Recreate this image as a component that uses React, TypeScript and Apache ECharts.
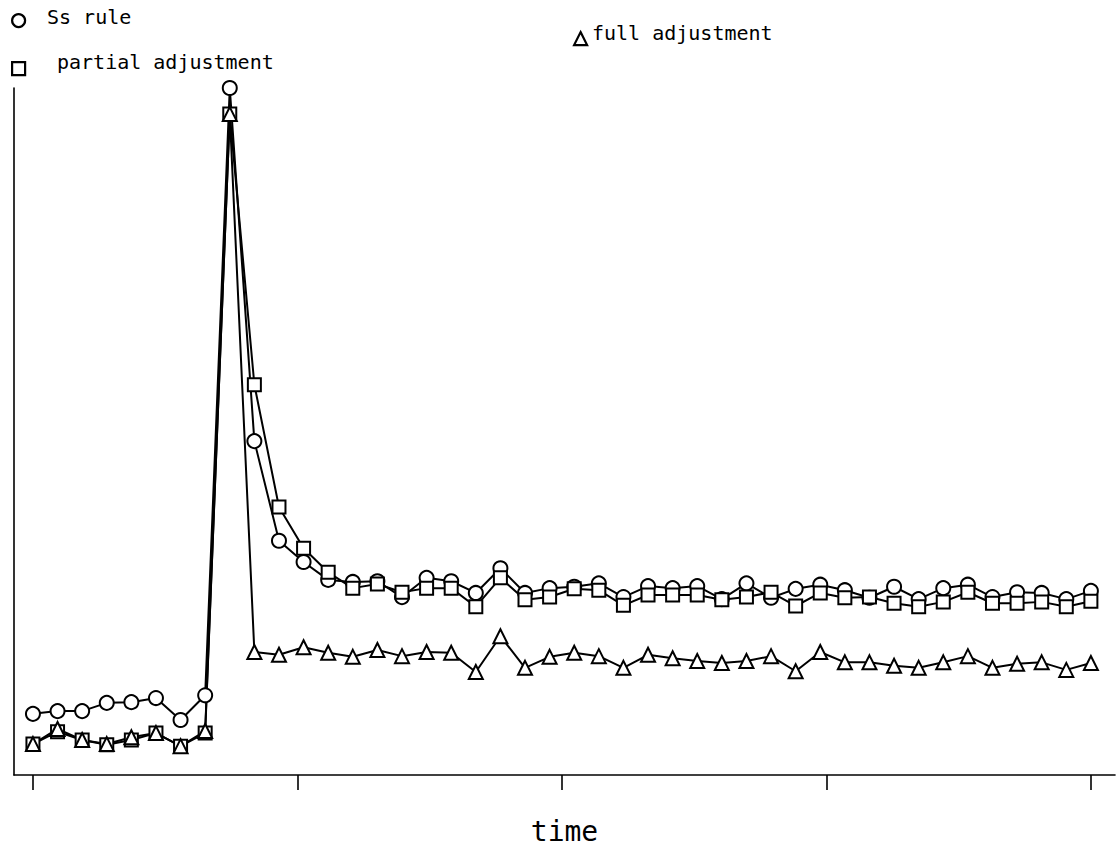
import React, { useEffect, useRef } from "react";
import * as echarts from "echarts";

const timeIndex: number[] = Array.from({ length: 44 }, (_, i) => i);

const ssRule: number[] = [
  8.9, 9.3, 9.3, 10.5, 10.6, 11.2, 8.0, 11.6, 100.0, 48.6,
  34.1, 31.0, 28.4, 28.1, 28.2, 25.9, 28.7, 28.2, 26.5, 30.1,
  26.5, 27.2, 27.4, 27.9, 25.9, 27.5, 27.2, 27.5, 25.6, 27.9,
  25.8, 27.1, 27.7, 26.9, 25.8, 27.4, 25.6, 27.2, 27.7, 25.9,
  26.6, 26.5, 25.6, 26.8,
];

const partialAdjustment: number[] = [
  4.5, 6.3, 5.1, 4.4, 5.1, 6.1, 4.2, 6.1, 96.2, 56.8,
  39.0, 33.0, 29.5, 27.2, 27.8, 26.6, 27.2, 27.2, 24.5, 28.7,
  25.5, 25.9, 27.1, 26.9, 24.7, 26.2, 26.2, 26.2, 25.5, 25.9,
  26.6, 24.6, 26.5, 25.8, 25.9, 25.0, 24.5, 25.2, 26.6, 25.0,
  25.0, 25.2, 24.5, 25.3,
];

const fullAdjustment: number[] = [
  4.5, 6.7, 5.1, 4.5, 5.5, 6.1, 4.2, 6.4, 96.2, 17.9,
  17.5, 18.6, 17.8, 17.2, 18.2, 17.3, 17.9, 17.8, 15.0, 20.2,
  15.6, 17.2, 17.8, 17.3, 15.6, 17.5, 17.0, 16.6, 16.3, 16.6,
  17.3, 15.1, 17.9, 16.4, 16.4, 15.9, 15.6, 16.4, 17.3, 15.6,
  16.2, 16.4, 15.3, 16.3,
];

const seriesNames: string[] = ["Ss rule", "partial adjustment", "full adjustment"];

const xTicks: number[] = [0, 10.75, 21.5, 32.25, 43];

const FONT = "'DejaVu Sans Mono', 'Liberation Mono', monospace";

export default function App() {
  const ref = useRef<HTMLDivElement>(null);
  useEffect(() => {
    if (!ref.current) return;
    const chart = echarts.init(ref.current, undefined, { renderer: "svg" });
    const mk = (d: number[]) => d.map((v, i) => [timeIndex[i], v]);
    const lineStyle = { color: "#000", width: 2 };
    const itemStyle = { color: "#000", borderWidth: 2.2 };
    const legendBase = {
      orient: "vertical" as const,
      itemWidth: 13,
      itemHeight: 13,
      selectedMode: false,
      formatter: () => "",
      itemStyle: { color: "#fff", borderColor: "#000", borderWidth: 2.2 },
    };
    const labelStyle = { fontFamily: FONT, fontSize: 20, fill: "#000" };
    chart.setOption({
      animation: false,
      backgroundColor: "#fff",
      legend: [
        { ...legendBase, left: 6, top: 8, data: [{ name: seriesNames[0], icon: "circle" }] },
        { ...legendBase, left: 6, top: 56, data: [{ name: seriesNames[1], icon: "rect" }] },
        { ...legendBase, left: 568, top: 26, data: [{ name: seriesNames[2], icon: "triangle" }] },
      ],
      graphic: [
        { type: "text", left: 47, top: 7, style: { ...labelStyle, text: seriesNames[0] } },
        { type: "text", left: 57, top: 52, style: { ...labelStyle, text: seriesNames[1] } },
        { type: "text", left: 592, top: 23, style: { ...labelStyle, text: seriesNames[2] } },
      ],
      grid: { left: 14, right: 3, top: 88, bottom: 79 },
      xAxis: {
        type: "value",
        min: -0.77,
        max: 43.98,
        name: "time",
        nameLocation: "middle",
        nameGap: 42,
        nameTextStyle: { fontFamily: FONT, fontSize: 28, color: "#000" },
        axisLine: { show: true, onZero: false, lineStyle: { color: "#000", width: 1.6 } },
        axisTick: {
          show: true,
          inside: false,
          length: 15,
          customValues: xTicks,
          lineStyle: { color: "#000", width: 1.6 },
        },
        axisLabel: { show: false },
        splitLine: { show: false },
      },
      yAxis: {
        type: "value",
        min: 0,
        max: 100,
        axisLine: { show: true, onZero: false, lineStyle: { color: "#000", width: 1.6 } },
        axisTick: { show: false },
        axisLabel: { show: false },
        splitLine: { show: false },
      },
      series: [
        {
          name: seriesNames[0],
          type: "line",
          data: mk(ssRule),
          symbol: "emptyCircle",
          symbolSize: 14,
          lineStyle,
          itemStyle,
        },
        {
          name: seriesNames[1],
          type: "line",
          data: mk(partialAdjustment),
          symbol: "emptyRect",
          symbolSize: 13,
          lineStyle,
          itemStyle,
        },
        {
          name: seriesNames[2],
          type: "line",
          data: mk(fullAdjustment),
          symbol: "emptyTriangle",
          symbolSize: 14,
          lineStyle,
          itemStyle,
        },
      ],
    });
    return () => chart.dispose();
  }, []);
  return (
    <div
      ref={ref}
      style={{ position: "fixed", left: 0, top: 0, width: 1118, height: 854, background: "#fff" }}
    />
  );
}
